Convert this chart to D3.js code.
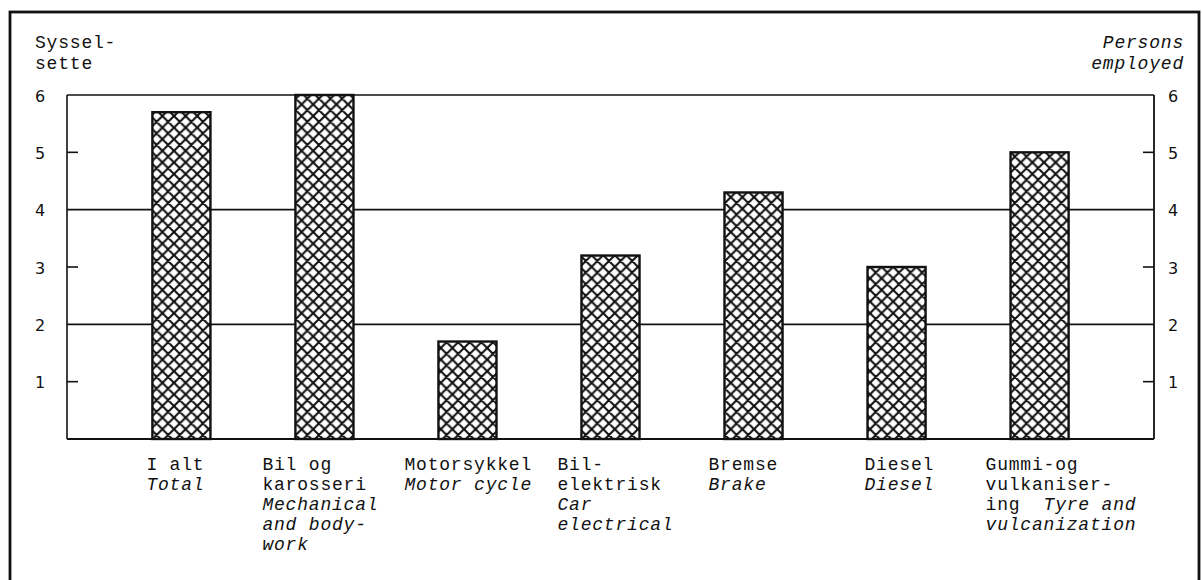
<!DOCTYPE html>
<html>
<head>
<meta charset="utf-8">
<script src="https://cdn.jsdelivr.net/npm/d3@7"></script>
<style>
body { margin:0; background:#fff; }
svg { display:block; }
.tw { font-family:"Liberation Mono", "DejaVu Sans Mono", monospace; font-size:18px; letter-spacing:0.8px; fill:#111; }
.it { font-style:italic; }
.tick-lbl { font-family:"DejaVu Sans", sans-serif; font-size:16px; fill:#111; }
</style>
</head>
<body>
<div id="chart"></div>
<script>

// values
var categories = ["I alt","Bil og karosseri","Motorsykkel","Bil-elektrisk","Bremse","Diesel","Gummi- og vulkanisering"]
var values = [5.7, 6.0, 1.7, 3.2, 4.3, 3.0, 5.0]
var yTicks = [1,2,3,4,5,6]
var gridTicks = [2,4]
var shortTicks = [1,3,5]

// category labels, line by line, [text, italic]
var labelLines = [
	[[["I alt",0]], [["Total",1]]],
	[[["Bil og",0]], [["karosseri",0]], [["Mechanical",1]], [["and body-",1]], [["work",1]]],
	[[["Motorsykkel",0]], [["Motor cycle",1]]],
	[[["Bil-",0]], [["elektrisk",0]], [["Car",1]], [["electrical",1]]],
	[[["Bremse",0]], [["Brake",1]]],
	[[["Diesel",0]], [["Diesel",1]]],
	[[["Gummi-og",0]], [["vulkaniser-",0]], [["ing  ",0],["Tyre and",1]], [["vulcanization",1]]]
]
var labelShift = [-6,-33,-34,-24,-16,-3,-25]

var W = 1202, H = 580
var pLeft = 67, pRight = 1154, pTop = 95, pBottom = 439

var svg = d3.select("#chart").append("svg")
	.attr("width", W)
	.attr("height", H)

// crosshatch
var pat = svg.append("defs").append("pattern")
	.attr("id","hatch")
	.attr("patternUnits","userSpaceOnUse")
	.attr("width",11.6).attr("height",11.6)
pat.append("rect").attr("width",11.6).attr("height",11.6).attr("fill","#fff")
pat.append("path")
	.attr("d","M0,0L11.6,11.6M11.6,0L0,11.6M-1,10.6L1,12.6M10.6,-1L12.6,1M10.6,12.6L12.6,10.6M-1,1L1,-1")
	.attr("stroke","#111").attr("stroke-width",2.1)

// outer frame
svg.append("rect")
	.attr("x",10).attr("y",12)
	.attr("width",1189).attr("height",600)
	.attr("fill","none").attr("stroke","#111").attr("stroke-width",2.8)

var x = d3.scaleBand()
	.domain(categories)
	.range([pLeft,pRight])
	.paddingInner(0.594)
	.paddingOuter(0.597)

var y = d3.scaleLinear()
	.domain([0,6])
	.range([pBottom,pTop])

// frame of plot + gridlines
var g = svg.append("g")

g.selectAll("line.grid")
	.data(gridTicks.concat([6]))
	.enter().append("line")
	.attr("x1",pLeft).attr("x2",pRight)
	.attr("y1",function(d){return y(d)}).attr("y2",function(d){return y(d)})
	.attr("stroke","#111").attr("stroke-width",1.6)

g.append("line").attr("x1",pLeft).attr("x2",pRight).attr("y1",pBottom).attr("y2",pBottom)
	.attr("stroke","#111").attr("stroke-width",1.8)
g.append("line").attr("x1",pLeft).attr("x2",pLeft).attr("y1",pTop).attr("y2",pBottom)
	.attr("stroke","#111").attr("stroke-width",1.6)
g.append("line").attr("x1",pRight).attr("x2",pRight).attr("y1",pTop).attr("y2",pBottom)
	.attr("stroke","#111").attr("stroke-width",1.8)

// short inner ticks both sides
g.selectAll("line.lt")
	.data(shortTicks)
	.enter().append("line")
	.attr("x1",pLeft).attr("x2",pLeft+11)
	.attr("y1",function(d){return y(d)}).attr("y2",function(d){return y(d)})
	.attr("stroke","#111").attr("stroke-width",1.6)
g.selectAll("line.rt")
	.data(shortTicks)
	.enter().append("line")
	.attr("x1",pRight-11).attr("x2",pRight)
	.attr("y1",function(d){return y(d)}).attr("y2",function(d){return y(d)})
	.attr("stroke","#111").attr("stroke-width",1.6)

// tick labels
g.selectAll("text.l")
	.data(yTicks)
	.enter().append("text")
	.attr("class","tick-lbl")
	.attr("x",40).attr("y",function(d){return y(d)+2})
	.attr("text-anchor","middle")
	.attr("dominant-baseline","middle")
	.text(function(d){return d})
g.selectAll("text.r")
	.data(yTicks)
	.enter().append("text")
	.attr("class","tick-lbl")
	.attr("x",1173).attr("y",function(d){return y(d)+2})
	.attr("text-anchor","middle")
	.attr("dominant-baseline","middle")
	.text(function(d){return d})

// bars
svg.selectAll("rect.bar")
	.data(values)
	.enter().append("rect")
	.attr("x",function(d,i){return x(categories[i])})
	.attr("y",function(d){return y(d)})
	.attr("width",x.bandwidth())
	.attr("height",function(d){return pBottom-y(d)})
	.attr("fill","url(#hatch)")
	.attr("stroke","#111").attr("stroke-width",2.4)

// axis titles
svg.append("text").attr("class","tw").attr("x",35).attr("y",48).text("Syssel-")
svg.append("text").attr("class","tw").attr("x",35).attr("y",69).text("sette")
svg.append("text").attr("class","tw it").attr("x",1184).attr("y",48).attr("text-anchor","end").text("Persons")
svg.append("text").attr("class","tw it").attr("x",1184).attr("y",69).attr("text-anchor","end").text("employed")

// category labels
for(var i=0;i<categories.length;i++)
{
	var x0 = x(categories[i]) + labelShift[i]
	var lines = labelLines[i]
	for(var j=0;j<lines.length;j++)
	{
		var t = svg.append("text").attr("class","tw")
			.attr("x",x0).attr("y",470 + j*20)
			.attr("xml:space","preserve")
		lines[j].forEach(function(s){
			t.append("tspan").attr("class", s[1] ? "it" : null).text(s[0])
		})
	}
}

</script>
</body>
</html>
